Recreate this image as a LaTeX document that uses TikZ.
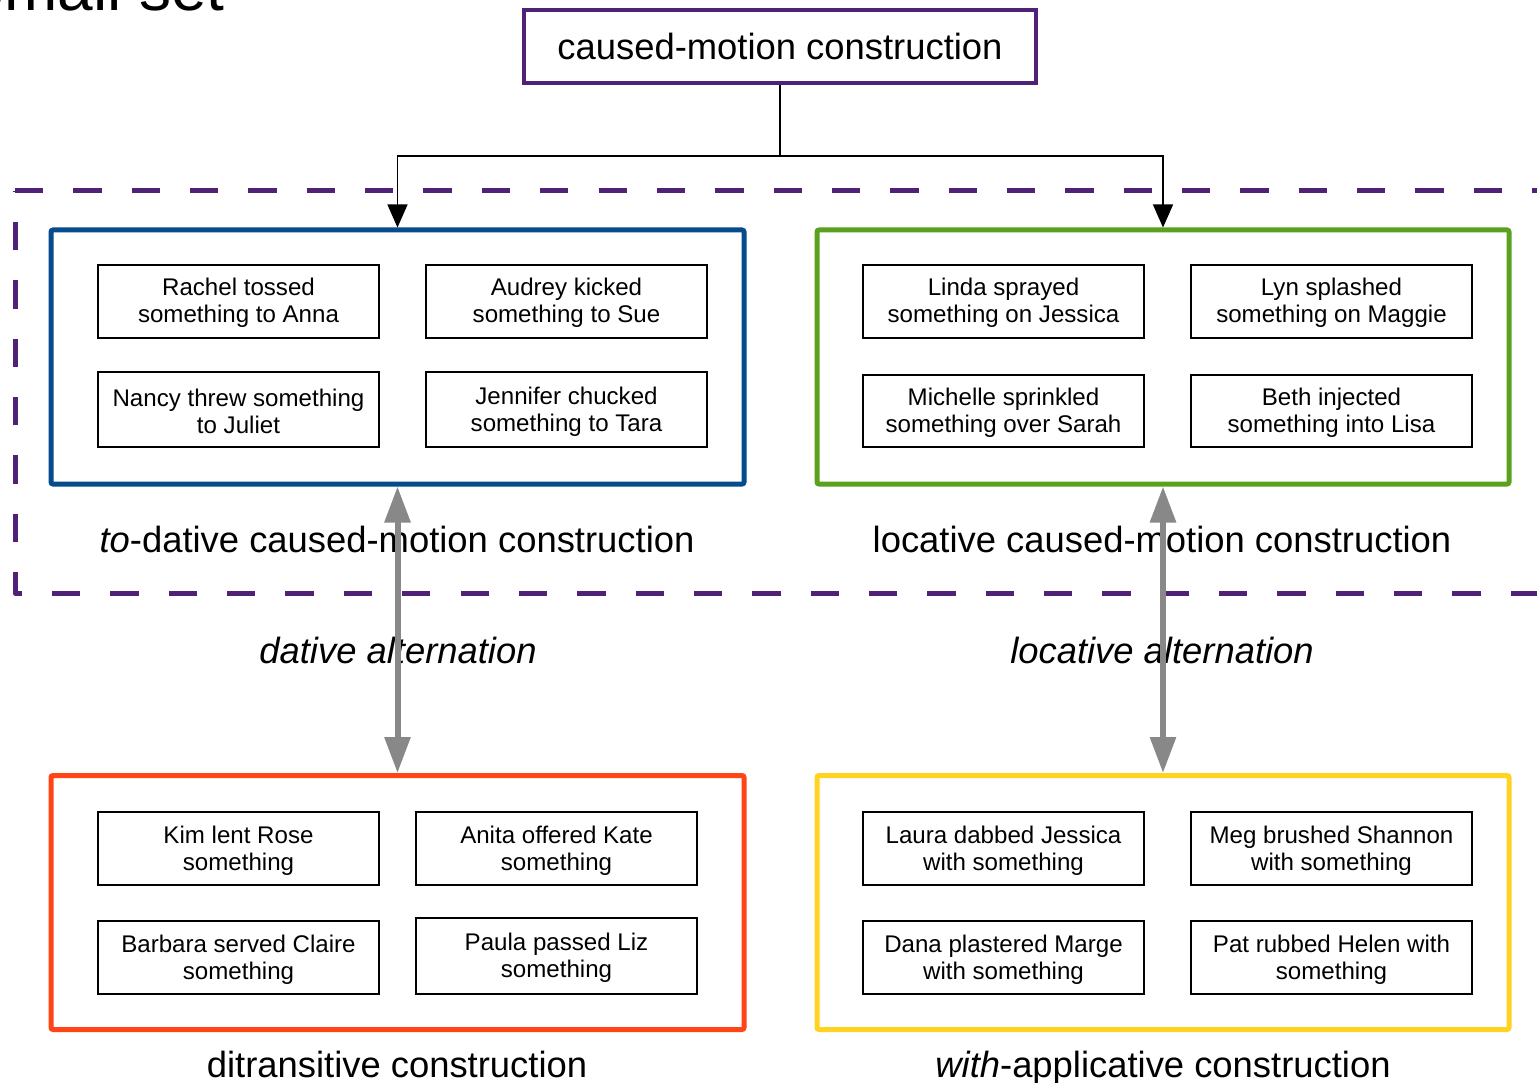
\documentclass[tikz,border=0pt]{standalone}
\usepackage{fontspec}
\setmainfont{Liberation Sans}
\usetikzlibrary{arrows.meta}
\definecolor{cpurple}{HTML}{4F2277}
\definecolor{cblue}{HTML}{064B8D}
\definecolor{cgreen}{HTML}{5BA01F}
\definecolor{corange}{HTML}{FF4416}
\definecolor{cyellow}{HTML}{FFD320}
\definecolor{cgray}{HTML}{888888}
\newcommand\exstrut{\rule{0pt}{21pt}}
\tikzset{
  bigbox/.style={draw, line width=5pt, rounded corners=2pt, minimum width=693pt, minimum height=254pt, inner sep=0pt},
  ex/.style={draw=black, line width=1.2pt, minimum width=281pt, minimum height=73pt, inner sep=0pt, align=center, font=\fontsize{24.1}{27}\selectfont},
  lab/.style={font=\fontsize{36.4}{40}\selectfont, anchor=base, inner sep=0pt},
  dashline/.style={draw=cpurple, line width=5pt, dash pattern=on 28.3pt off 30.05pt},
  blackarr/.style={-{Triangle[length=23pt,width=20pt]}, line width=1.3pt, draw=black},
  grayarr/.style={{Triangle[length=36pt,width=25pt]}-{Triangle[length=36pt,width=25pt]}, line width=6pt, draw=cgray},
}
\begin{document}
\begin{tikzpicture}[x=1pt,y=-1pt]
\useasboundingbox (0,0) rectangle (1537,1083);
\clip (0,0) rectangle (1537,1083);
\fill[white] (0,0) rectangle (1537,1083);

% cut-off heading
\node[font=\fontsize{64}{70}\selectfont, anchor=base east, inner sep=0pt] (heading) at (225,11) {Small set};

% dashed region
\draw[dashline, dash phase=28.3pt] (22,593) -- (1560,593);
\draw[draw=cpurple, line width=5pt, line join=round] (22,593) -- (15,593) -- (15,572);
\draw[dashline, dash phase=28.3pt] (15,572) -- (15,191);
\draw[dashline] (15,191) -- (1560,191);

% top node
\node[draw=cpurple, line width=4pt, minimum width=512pt, minimum height=73pt, inner sep=0pt, font=\fontsize{36.4}{40}\selectfont] (top) at (780,46.5) {caused-motion construction};

% big boxes
\node[bigbox, draw=cblue] (dat) at (397.5,357) {};
\node[bigbox, draw=cgreen, minimum width=692pt] (loc) at (1163,357) {};
\node[bigbox, draw=corange] (ditr) at (397.5,902.5) {};
\node[bigbox, draw=cyellow, minimum width=692pt] (with) at (1163,902.5) {};

% dative examples
\node[ex] (d1) at (238.5,301.5) {\exstrut Rachel tossed\\something to Anna};
\node[ex] (d2) at (566.5,301.5) {\exstrut Audrey kicked\\something to Sue};
\node[ex, minimum height=75pt] (d3) at (238.5,409.5) {\exstrut Nancy threw something\\to Juliet};
\node[ex, minimum height=75pt] (d4) at (566.5,409.5) {\exstrut Jennifer chucked\\something to Tara};

% locative examples
\node[ex] (l1) at (1003.5,301.5) {\exstrut Linda sprayed\\something on Jessica};
\node[ex] (l2) at (1331.5,301.5) {\exstrut Lyn splashed\\something on Maggie};
\node[ex, minimum height=72pt] (l3) at (1003.5,411) {\exstrut Michelle sprinkled\\something over Sarah};
\node[ex, minimum height=72pt] (l4) at (1331.5,411) {\exstrut Beth injected\\something into Lisa};

% ditransitive examples
\node[ex] (t1) at (238.5,848.5) {\exstrut Kim lent Rose\\something};
\node[ex] (t2) at (556.5,848.5) {\exstrut Anita offered Kate\\something};
\node[ex] (t3) at (238.5,957.5) {\exstrut Barbara served Claire\\something};
\node[ex, minimum height=76pt] (t4) at (556.5,956) {\exstrut Paula passed Liz\\something};

% with-applicative examples
\node[ex] (w1) at (1003.5,848.5) {\exstrut Laura dabbed Jessica\\with something};
\node[ex] (w2) at (1331.5,848.5) {\exstrut Meg brushed Shannon\\with something};
\node[ex] (w3) at (1003.5,957.5) {\exstrut Dana plastered Marge\\with something};
\node[ex] (w4) at (1331.5,957.5) {\exstrut Pat rubbed Helen with\\something};

% labels
\node[lab] (datlab) at (397,552) {\textit{to}-dative caused-motion construction};
\node[lab] (loclab) at (1162,552) {locative caused-motion construction};
\node[lab] (ditrlab) at (397,1077) {ditransitive construction};
\node[lab] (withlab) at (1163,1077) {\textit{with}-applicative construction};
\node[lab, font=\fontsize{36.4}{40}\selectfont\itshape] (datalt) at (398,663) {dative alternation};
\node[lab, font=\fontsize{36.4}{40}\selectfont\itshape] (localt) at (1162,663) {locative alternation};

% connectors
\coordinate (j) at (780,156);
\draw[line width=1.3pt] (top.south) -- (j);
\draw[blackarr] (j) -| (dat.north);
\draw[blackarr] (j) -| (loc.north);

\draw[grayarr] (dat.south) -- (ditr.north);
\draw[grayarr] (loc.south) -- (with.north);
\end{tikzpicture}
\end{document}
